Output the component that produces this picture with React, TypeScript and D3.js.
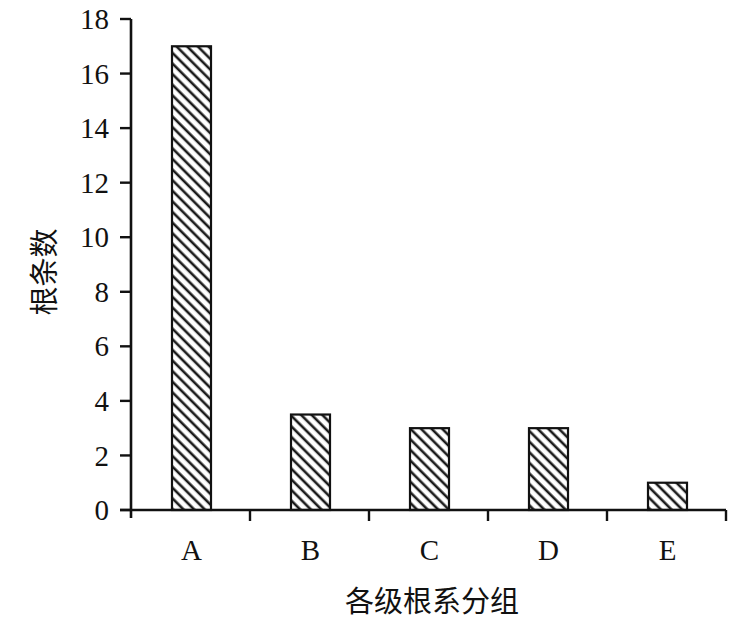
import React from "react";
import * as d3 from "d3";

const categories = ["A", "B", "C", "D", "E"];
const values = [17, 3.5, 3, 3, 1];
const yTicks = [0, 2, 4, 6, 8, 10, 12, 14, 16, 18];
const xTitle = "各级根系分组";
const yTitle = "根条数";

export default function App() {
  const W = 746, H = 629;
  const x0 = 131, x1 = 726, yTop = 19, yBot = 510;
  const x = d3.scaleBand<string>().domain(categories).range([x0, x1]).paddingInner(0).paddingOuter(0);
  const y = d3.scaleLinear().domain([0, 18]).range([yBot, yTop]);
  const bw = 39;
  const serif = "'Liberation Serif', 'DejaVu Serif', serif";
  const cjk = "'Noto Sans CJK SC', sans-serif";
  const boundaries = categories.map((c) => x(c)!).concat([x1]);
  return (
    <svg width={W} height={H} style={{ position: "absolute", left: 0, top: 0, background: "#fff" }}>
      <defs>
        <pattern id="hatch" patternUnits="userSpaceOnUse" width={7.5} height={7.5} patternTransform="rotate(-45)">
          <rect width={7.5} height={7.5} fill="#fff" />
          <line x1={2} y1={0} x2={2} y2={7.5} stroke="#1a1a1a" strokeWidth={2.6} />
        </pattern>
      </defs>
      {categories.map((c, i) => {
        const cx = x(c)! + x.bandwidth() / 2;
        return (
          <rect key={c} x={cx - bw / 2 + 1} y={y(values[i])} width={bw} height={yBot - y(values[i])}
            fill="url(#hatch)" stroke="#111" strokeWidth={2.2} />
        );
      })}
      <line x1={x0} y1={yTop} x2={x0} y2={yBot + 8} stroke="#111" strokeWidth={2.6} />
      <line x1={120} y1={yBot} x2={x1} y2={yBot} stroke="#111" strokeWidth={2.6} />
      {yTicks.map((t) => (
        <g key={t}>
          <line x1={120} x2={x0} y1={y(t)} y2={y(t)} stroke="#111" strokeWidth={2.4} />
          <text x={109} y={y(t)} dy="0.35em" textAnchor="end" fontFamily={serif} fontSize={29} fill="#111">{t}</text>
        </g>
      ))}
      {boundaries.slice(1).map((b, i) => (
        <line key={i} x1={b} x2={b} y1={yBot} y2={yBot + 11} stroke="#111" strokeWidth={2.4} />
      ))}
      {categories.map((c) => (
        <text key={c} x={x(c)! + x.bandwidth() / 2 + 1} y={560} textAnchor="middle" fontFamily={serif} fontSize={29} fill="#111">{c}</text>
      ))}
      <text x={432} y={612} textAnchor="middle" fontFamily={cjk} fontSize={29} fill="#111">{xTitle}</text>
      <text transform="translate(55,272) rotate(-90)" textAnchor="middle" fontFamily={cjk} fontSize={29} fill="#111">{yTitle}</text>
    </svg>
  );
}
